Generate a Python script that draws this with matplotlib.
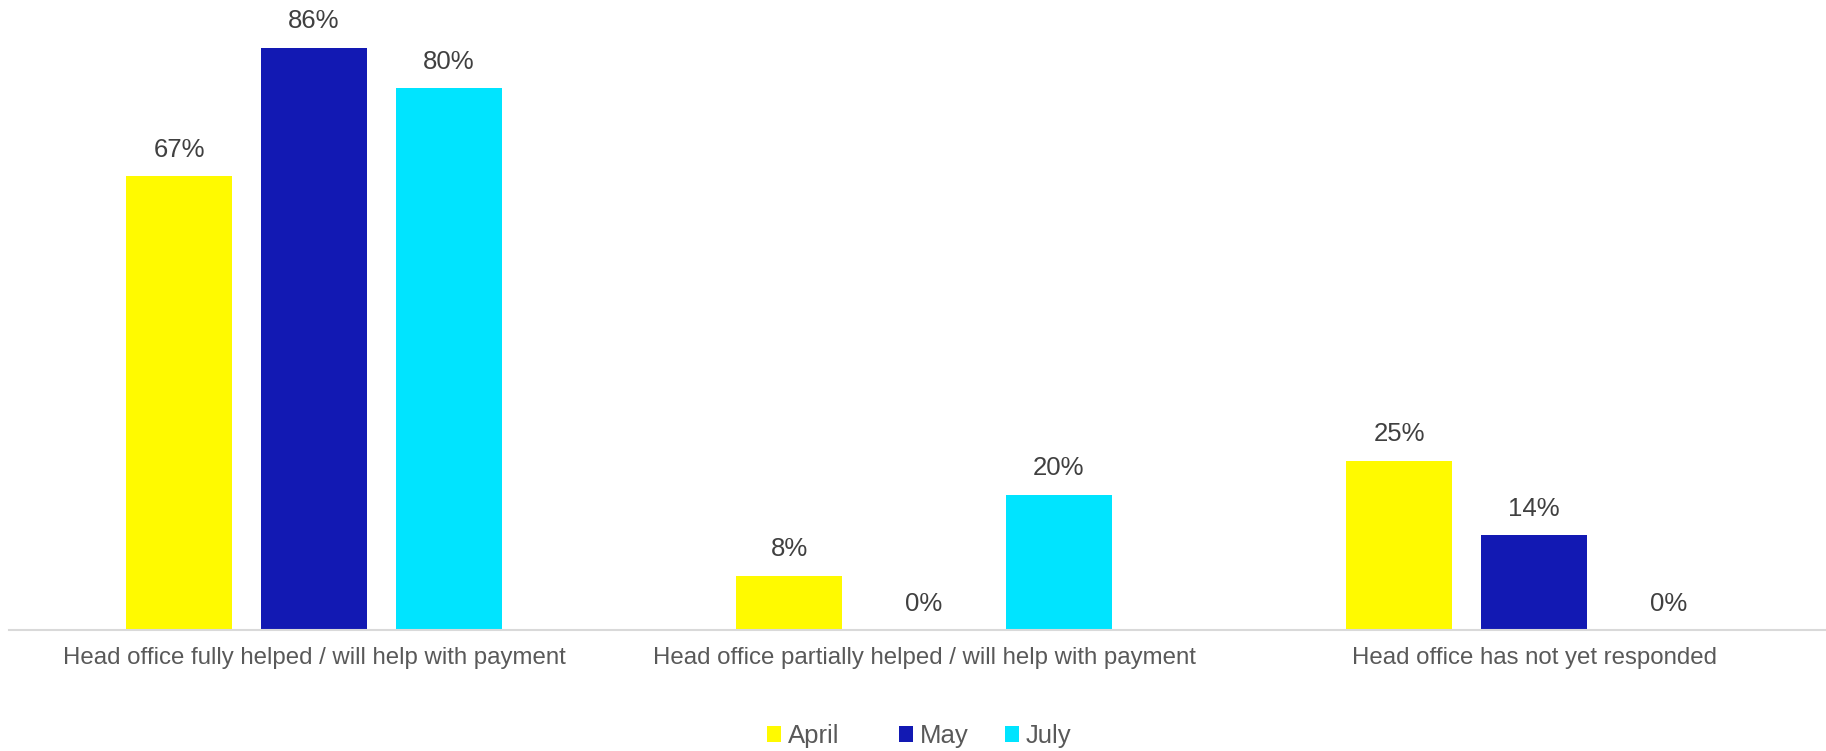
import numpy as np
import matplotlib

matplotlib.use('Agg')
import matplotlib.pyplot as plt
from matplotlib.patches import Patch

plt.rcParams['font.family'] = ['Liberation Sans', 'DejaVu Sans']

categories = [
    "Head office fully helped / will help with payment",
    "Head office partially helped / will help with payment",
    "Head office has not yet responded",
]
series_names = ["April", "May", "July"]
april = [0.67, 0.08, 0.25]
may = [0.86, 0.00, 0.14]
july = [0.80, 0.20, 0.00]
colors = ["#FFFA00", "#1219B3", "#00E4FF"]


def main():
    fig = plt.figure(figsize=(18.26, 7.51), dpi=100)
    ax = fig.add_axes([9 / 1826, 121 / 751, 1830 / 1826, 630 / 751])

    x = np.arange(len(categories))
    step = 0.221
    width = 0.174
    for j, (name, vals) in enumerate(zip(series_names, [april, may, july])):
        pos = x + (j - 1) * step
        ax.bar(pos, vals, width=width, color=colors[j], label=name)
        for px, v in zip(pos, vals):
            ax.annotate(f"{v * 100:.0f}%", (px, v), xytext=(0, 14),
                        textcoords='offset points', ha='center', va='baseline',
                        fontsize=18.5, color='#404040')

    ax.set_xlim(-0.5, 2.5)
    ax.set_ylim(0, 0.9305)
    ax.set_xticks(x)
    ax.set_xticklabels(categories, fontsize=17.3, color='#595959')
    ax.tick_params(axis='x', length=0, pad=12)
    ax.set_yticks([])
    for s in ['top', 'right', 'left']:
        ax.spines[s].set_visible(False)
    ax.spines['bottom'].set_color('#d9d9d9')
    ax.spines['bottom'].set_linewidth(1.5)

    # legend entries sit at fixed slots, like the original
    slots = [767, 899, 1005]
    for c, n, sx in zip(colors, series_names, slots):
        leg = fig.legend(handles=[Patch(facecolor=c, label=n)], loc='center left',
                         bbox_to_anchor=(sx / 1826, 1 - 736 / 751), frameon=False,
                         fontsize=18.5, handlelength=0.55, handleheight=0.55,
                         handletextpad=0.25, borderpad=0, borderaxespad=0)
        for t in leg.get_texts():
            t.set_color('#595959')

    fig.savefig('out.png', dpi=100)


if __name__ == '__main__':
    main()
